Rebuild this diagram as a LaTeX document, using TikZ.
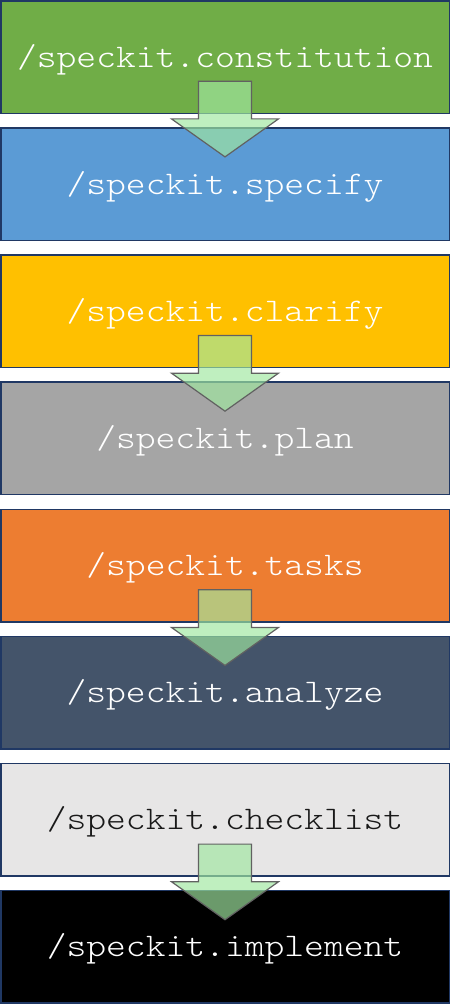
\documentclass[tikz,border=0pt]{standalone}
\usepackage{fontspec}
\setmonofont[FakeStretch=1.143]{lmmonolt10-regular.otf}
\usepackage{xcolor}
\usepackage{tikz}
\usetikzlibrary{positioning,calc}

\definecolor{cgreen}{HTML}{70AD47}
\definecolor{cblue}{HTML}{5B9BD5}
\definecolor{cgold}{HTML}{FFC000}
\definecolor{cgray}{HTML}{A5A5A5}
\definecolor{corange}{HTML}{ED7D31}
\definecolor{cslate}{HTML}{44546A}
\definecolor{clight}{HTML}{E7E6E6}
\definecolor{cnavy}{HTML}{203864}
\definecolor{carrow}{HTML}{A0E7A0}

\tikzset{
  cmdbox/.style={draw=cnavy, line width=1.5pt, outer sep=0pt,
    minimum width=448.5pt, minimum height=112.5pt, text=white,
    text height=20pt, text depth=0pt,
    font=\ttfamily\fontsize{33}{40}\selectfont},
  flowarrow/.style={draw=black!62, line width=1.2pt, fill=carrow,
    fill opacity=0.67, line join=miter}
}

% block arrow from one box into the next
\newcommand{\flowarrow}[2]{%
  \draw[flowarrow] ($(#1.south)+(-26.5pt,32pt)$) -- ($(#1.south)+(26.5pt,32pt)$)
    -- ($(#2.north)+(26.5pt,9pt)$) -- ($(#2.north)+(53.5pt,9pt)$)
    -- ($(#2.north)+(0pt,-29pt)$)
    -- ($(#2.north)+(-53.5pt,9pt)$) -- ($(#2.north)+(-26.5pt,9pt)$) -- cycle;}

\begin{document}
\begin{tikzpicture}[node distance=14.64pt]

\useasboundingbox (0,0) rectangle (450pt,-1004pt);

% Boxes
\node[cmdbox, fill=cgreen] (constitution) at (225pt,-57pt) {/speckit.constitution};
\node[cmdbox, fill=cblue, below=of constitution] (specify) {/speckit.specify};
\node[cmdbox, fill=cgold, below=of specify] (clarify) {/speckit.clarify};
\node[cmdbox, fill=cgray, below=of clarify] (plan) {/speckit.plan};
\node[cmdbox, fill=corange, below=of plan] (tasks) {/speckit.tasks};
\node[cmdbox, fill=cslate, below=of tasks] (analyze) {/speckit.analyze};
\node[cmdbox, fill=clight, text=black!90, below=of analyze] (checklist) {/speckit.checklist};
\node[cmdbox, fill=black, below=of checklist] (implement) {/speckit.implement};

% Arrows
\flowarrow{constitution}{specify}
\flowarrow{clarify}{plan}
\flowarrow{tasks}{analyze}
\flowarrow{checklist}{implement}

\end{tikzpicture}
\end{document}
